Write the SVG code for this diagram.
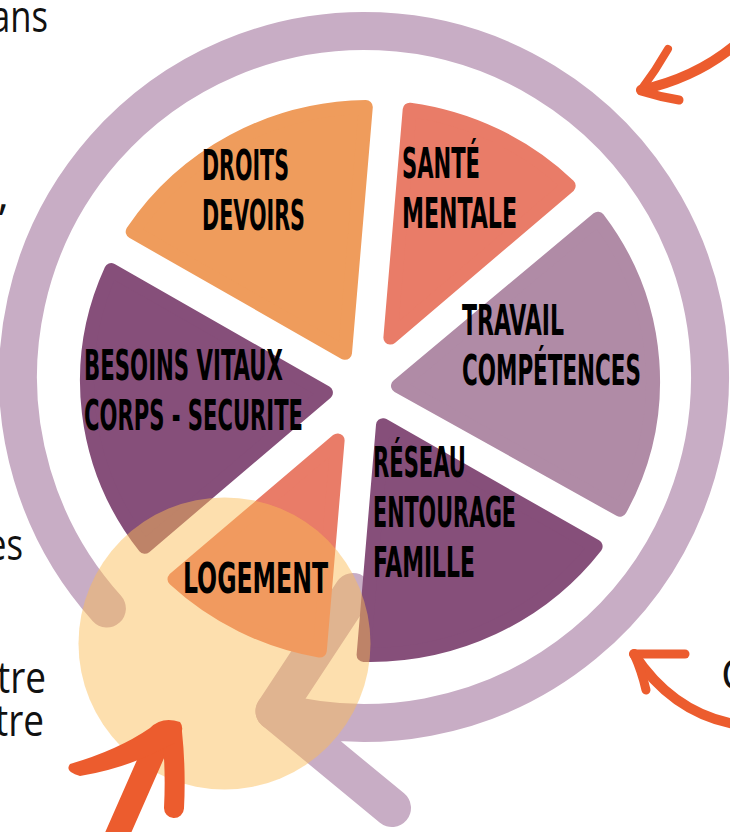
<svg xmlns="http://www.w3.org/2000/svg" width="730" height="832" viewBox="0 0 730 832">
<style>
.seg{stroke-width:14;stroke-linejoin:round}
.orange{fill:#EF9C5C;stroke:#EF9C5C}
.salmon{fill:#E97C68;stroke:#E97C68}
.lilac{fill:#B08BA6;stroke:#B08BA6}
.plum{fill:#864F7A;stroke:#864F7A}
.lab{font-family:"Liberation Sans Narrow","DejaVu Sans Condensed","Liberation Sans",sans-serif;font-weight:700;font-size:42px;fill:#000}
.side{font-family:"Open Sans","Noto Sans",sans-serif;font-size:44px;fill:#111}
.ring{fill:none;stroke:#C8ADC5;stroke-width:38;stroke-linecap:round;stroke-linejoin:round}
.arr{fill:none;stroke:#EC5C2E;stroke-linecap:round;stroke-linejoin:round}
</style>
<rect width="730" height="832" fill="#fff"/>

<g id="side-text">
<text class="side" x="-9" y="32" textLength="57" lengthAdjust="spacingAndGlyphs">ans</text>
<text class="side" x="9" y="209" text-anchor="end">,</text>
<text class="side" x="-13" y="560" textLength="36" lengthAdjust="spacingAndGlyphs">es</text>
<text class="side" x="-3" y="693" textLength="49" lengthAdjust="spacingAndGlyphs">tre</text>
<text class="side" x="-5" y="736" textLength="49" lengthAdjust="spacingAndGlyphs">tre</text>
<text class="side" x="721" y="690">Q</text>
</g>

<g id="magnifier">
<path class="ring" d="M106.9 608.5 A346 346 0 1 1 274.5 711.2 L392 808"/>
<path class="ring" d="M274.5 711.2 L353 592"/>
</g>

<g id="droits"><path class="seg orange" d="M132.7 231.7 A283 274 0 0 1 365.8 107 L345 352.8 Z"/></g>
<g id="sante"><path class="seg salmon" d="M409.7 109.7 A283 274 0 0 1 568.7 185.8 L390.4 337.6 Z"/></g>
<g id="travail"><path class="seg lilac" d="M598 218.7 A283 274 0 0 1 619.9 509.7 L398 385.8 Z"/></g>
<g id="reseau"><path class="seg plum" d="M595.6 546.4 A283 274 0 0 1 363.6 654.9 L383 425.2 Z"/></g>
<g id="logement"><path class="seg salmon" d="M319.8 650.6 A283 274 0 0 1 174.5 579.2 L337.6 440.4 Z"/></g>
<g id="besoins"><path class="seg plum" d="M144.7 546.8 A283 274 0 0 1 111.2 270.1 L325.9 392.6 Z"/></g>

<g id="highlight"><circle cx="224.5" cy="643.5" r="146" fill="#FBBC56" fill-opacity="0.48"/></g>

<g id="labels">
<text class="lab" x="202" y="180" textLength="87" lengthAdjust="spacingAndGlyphs">DROITS</text>
<text class="lab" x="202" y="230" textLength="103" lengthAdjust="spacingAndGlyphs">DEVOIRS</text>
<text class="lab" x="402" y="178" textLength="78" lengthAdjust="spacingAndGlyphs">SANTÉ</text>
<text class="lab" x="402" y="228" textLength="115" lengthAdjust="spacingAndGlyphs">MENTALE</text>
<text class="lab" x="462" y="335" textLength="102" lengthAdjust="spacingAndGlyphs">TRAVAIL</text>
<text class="lab" x="462" y="385" textLength="179" lengthAdjust="spacingAndGlyphs">COMPÉTENCES</text>
<text class="lab" x="84" y="380" textLength="199" lengthAdjust="spacingAndGlyphs">BESOINS VITAUX</text>
<text class="lab" x="84" y="430" textLength="219" lengthAdjust="spacingAndGlyphs">CORPS - SECURITE</text>
<text class="lab" x="373" y="477" textLength="93" lengthAdjust="spacingAndGlyphs">RÉSEAU</text>
<text class="lab" x="373" y="527" textLength="143" lengthAdjust="spacingAndGlyphs">ENTOURAGE</text>
<text class="lab" x="373" y="577" textLength="102" lengthAdjust="spacingAndGlyphs">FAMILLE</text>
<text class="lab" x="183" y="593" textLength="145" lengthAdjust="spacingAndGlyphs">LOGEMENT</text>
</g>

<g id="connectors">
<g id="arrow-top">
<path class="arr" stroke-width="10" d="M734 46 Q695 78 641 90"/>
<path class="arr" stroke-width="8" d="M641 90 Q656 70 668 49"/>
<path class="arr" stroke-width="9" d="M641 91 Q660 97 679 100"/>
</g>
<g id="arrow-right">
<path class="arr" stroke-width="10" d="M634 654 Q672 712 734 724"/>
<path class="arr" stroke-width="9" d="M634 654 Q660 654 685 654"/>
<path class="arr" stroke-width="9" d="M634 654 Q642 672 646 690"/>
</g>
<g id="arrow-bottom">
<path class="arr" stroke-width="24" d="M158 742 L114 842"/>
<path class="arr" stroke-width="20" d="M172 732 Q176 770 174 808"/>
<path d="M150 728 Q162 716 180 722 Q186 730 176 742 Q130 768 80 776 Q64 772 70 764 Q118 750 150 728 Z" fill="#EC5C2E"/>
</g>
</g>
</svg>
